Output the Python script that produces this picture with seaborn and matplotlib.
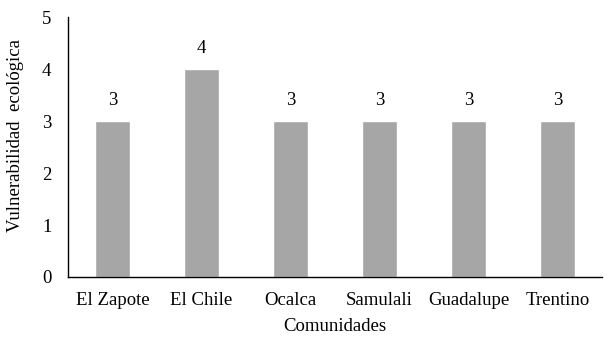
import matplotlib
matplotlib.use("Agg")
import matplotlib.pyplot as plt
import seaborn as sns
import pandas as pd

categories = ["El Zapote", "El Chile", "Ocalca", "Samulali", "Guadalupe", "Trentino"]
values = [3, 4, 3, 3, 3, 3]

sns.set_theme(style="white")
plt.rcParams['font.family'] = ['Liberation Serif', 'DejaVu Serif']

df = pd.DataFrame({"Comunidades": categories, "Vulnerabilidad": values})

fig = plt.figure(figsize=(6.11, 3.41), dpi=100)
ax = fig.add_axes([0.1113, 0.1877, 0.874, 0.7623])
sns.barplot(data=df, x="Comunidades", y="Vulnerabilidad", color="#a6a6a6",
            width=0.4, saturation=1, ax=ax)
ax.set_ylim(0, 5)
ax.set_xlim(-0.5, 5.5)
ax.set_yticks(range(0, 6))
for s in ["top", "right"]:
    ax.spines[s].set_visible(False)
for s in ["left", "bottom"]:
    ax.spines[s].set_color("black")
    ax.spines[s].set_linewidth(1)
ax.tick_params(axis="both", length=0, labelsize=13.5, colors="black")
ax.tick_params(axis="y", pad=12)
ax.tick_params(axis="x", pad=11)
ax.set_xlabel("Comunidades", fontsize=13.5, color="black", labelpad=6)
ax.set_ylabel("Vulnerabilidad  ecológica", fontsize=13.5, color="black",
              va="center", ha="center")
ax.yaxis.set_label_coords(-0.099, 0.546)
for c in ax.containers:
    ax.bar_label(c, fmt="%d", padding=9, fontsize=13.5, color="black")
fig.savefig("out.png", dpi=100)
